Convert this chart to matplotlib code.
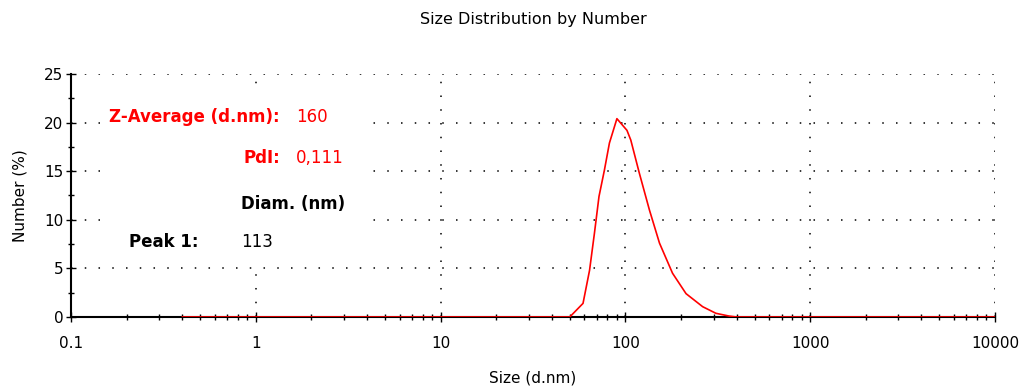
import matplotlib.pyplot as plt
import numpy as np
from matplotlib.patches import Rectangle
from matplotlib.ticker import LogLocator, MultipleLocator, NullFormatter

plt.rcParams['font.family'] = ['DejaVu Sans']

# size distribution by number
size_nm = [0.4, 50, 59, 64, 68, 72, 77, 82, 90, 102, 107, 119, 135, 153, 180, 213, 262, 309, 363, 400, 10000]
number_pct = [0, 0, 1.4, 4.8, 8.6, 12.4, 15.1, 17.9, 20.4, 19.2, 18.2, 14.8, 11.0, 7.6, 4.5, 2.4, 1.06, 0.38, 0.1, 0, 0]

xticks = [0.1, 1, 10, 100, 1000, 10000]
xtick_labels = ["0.1", "1", "10", "100", "1000", "10000"]
yticks = [0, 5, 10, 15, 20, 25]

fig = plt.figure(figsize=(10.22, 3.87), dpi=100)
ax = fig.add_axes([0.0695, 0.1809, 0.904, 0.628])

ax.plot(size_nm, number_pct, color="red", lw=1.2, zorder=3)

ax.set_xscale("log")
ax.set_xlim(0.1, 10000)
ax.set_ylim(0, 25)

ax.set_xticks(xticks)
ax.set_xticklabels(xtick_labels)
ax.xaxis.set_minor_locator(LogLocator(base=10, subs=np.arange(2, 10)))
ax.xaxis.set_minor_formatter(NullFormatter())
ax.set_yticks(yticks)
ax.yaxis.set_minor_locator(MultipleLocator(2.5))

ax.tick_params(which="major", direction="inout", length=7, width=1, labelsize=11, color="black")
ax.tick_params(which="minor", direction="inout", length=5, width=1, color="black")
ax.tick_params(axis="x", which="major", pad=10)
ax.tick_params(axis="y", which="major", pad=2)

for s in ["top", "right"]:
    ax.spines[s].set_visible(False)
ax.spines["left"].set_linewidth(1.5)
ax.spines["bottom"].set_linewidth(1.5)

ax.grid(True, which="major", color="black", linestyle=(0, (1, 8)), linewidth=1.1)

ax.set_title("Size Distribution by Number", fontsize=11.5, pad=36)
ax.set_xlabel("Size (d.nm)", fontsize=11, labelpad=14)
ax.set_ylabel("Number (%)", fontsize=11, labelpad=12)

def ax_xy(px, py):
    return ((px - 71) / 924, (317 - py) / 243)

# white panel behind the result text
x0, y0 = ax_xy(100, 262)
x1, y1 = ax_xy(370, 88)
ax.add_patch(Rectangle((x0, y0), x1 - x0, y1 - y0, transform=ax.transAxes,
                       facecolor="white", edgecolor="none", zorder=2))

tk = dict(transform=ax.transAxes, fontsize=12, va="center", zorder=4)
x, y = ax_xy(280, 117)
ax.text(x, y, "Z-Average (d.nm):", color="red", fontweight="bold", ha="right", **tk)
x, y = ax_xy(296, 117)
ax.text(x, y, "160", color="red", ha="left", **tk)
x, y = ax_xy(280, 158)
ax.text(x, y, "PdI:", color="red", fontweight="bold", ha="right", **tk)
x, y = ax_xy(296, 158)
ax.text(x, y, "0,111", color="red", ha="left", **tk)
x, y = ax_xy(241, 204)
ax.text(x, y, "Diam. (nm)", color="black", fontweight="bold", ha="left", **tk)
x, y = ax_xy(198, 242)
ax.text(x, y, "Peak 1:", color="black", fontweight="bold", ha="right", **tk)
x, y = ax_xy(241, 242)
ax.text(x, y, "113", color="black", ha="left", **tk)

fig.savefig("out.png", dpi=100)
